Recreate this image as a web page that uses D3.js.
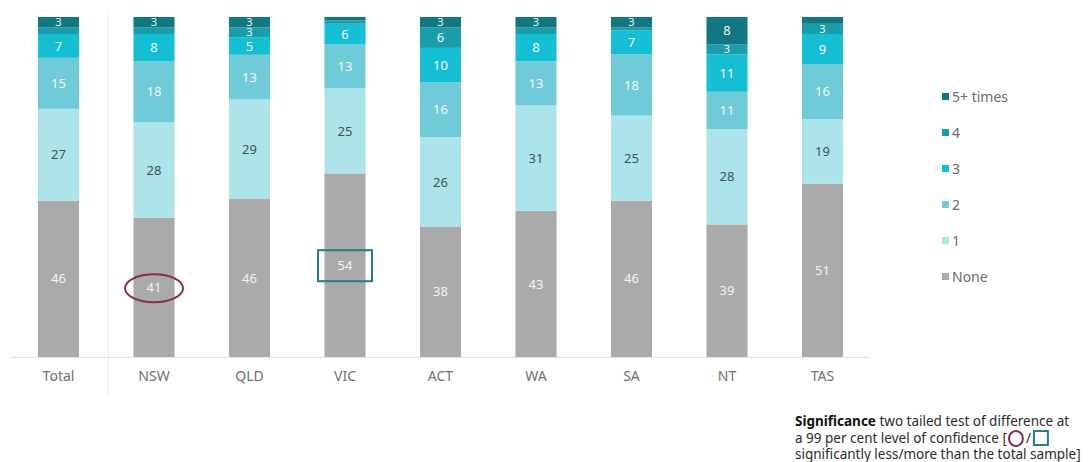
<!DOCTYPE html>
<html>
<head>
<meta charset="utf-8">
<script src="https://cdn.jsdelivr.net/npm/d3@7"></script>
<style>
  body { margin: 0; background: #fff; }
  svg { font-family: "Noto Sans", "Open Sans", sans-serif; }
</style>
</head>
<body>
<svg id="chart" width="1090" height="462"></svg>
<script>
// categories and series (per cent)
const regions = ["Total", "NSW", "QLD", "VIC", "ACT", "WA", "SA", "NT", "TAS"];
const seriesKeys = ["None", "1", "2", "3", "4", "5+ times"];
const none   = [46, 41, 46, 54, 38, 43, 46, 39, 51];
const once   = [27, 28, 29, 25, 26, 31, 25, 28, 19];
const twice  = [15, 18, 13, 13, 16, 13, 18, 11, 16];
const three  = [7, 8, 5, 6, 10, 8, 7, 11, 9];
const four   = [2, 2, 3, 1, 6, 2, 1, 3, 3];
const fivePlus = [3, 3, 3, 1, 3, 3, 3, 8, 2];
// significance markers
const sigLess = ["NSW"];
const sigMore = ["VIC"];

const colors = ["#aaaaaa", "#ade4e9", "#6fcbd8", "#14bfd3", "#1a9dab", "#117781"];
const labelColors = ["#f4f4f4", "#3a555a", "#f4f4f4", "#f4f4f4", "#f4f4f4", "#f4f4f4"];

const rows = regions.map((r, i) => ({
  region: r,
  "None": none[i], "1": once[i], "2": twice[i], "3": three[i],
  "4": four[i], "5+ times": fivePlus[i]
}));

const svg = d3.select("#chart");
const plotTop = 17, plotBottom = 357;

const x = d3.scaleBand().domain(regions).range([12, 869])
  .paddingInner(0.57).paddingOuter(0.272);
const y = d3.scaleLinear().domain([0, 1]).range([plotBottom, plotTop]);
const color = d3.scaleOrdinal().domain(seriesKeys).range(colors);

const stacked = d3.stack().keys(seriesKeys).offset(d3.stackOffsetExpand)(rows);

// separator after Total
svg.append("line")
  .attr("x1", 108.5).attr("x2", 108.5).attr("y1", 10).attr("y2", 396)
  .attr("stroke", "#efefef").attr("stroke-width", 1);

const layers = svg.append("g").selectAll("g")
  .data(stacked).join("g")
  .attr("fill", d => color(d.key));

layers.selectAll("rect")
  .data(d => d)
  .join("rect")
  .attr("x", d => x(d.data.region))
  .attr("width", x.bandwidth())
  .attr("y", d => y(d[1]))
  .attr("height", d => y(d[0]) - y(d[1]));

// segment labels (thin segments get a smaller font so stacked 3s stay legible)
stacked.forEach((layer, li) => {
  svg.append("g").selectAll("text")
    .data(layer.filter(d => d.data[layer.key] >= 3))
    .join("text")
    .attr("x", d => x(d.data.region) + x.bandwidth() / 2)
    .attr("y", d => (y(d[0]) + y(d[1])) / 2)
    .attr("dy", "0.36em")
    .attr("text-anchor", "middle")
    .attr("font-size", d => d.data[layer.key] <= 3 ? 11 : 13)
    .attr("fill", labelColors[li])
    .text(d => d.data[layer.key]);
});

// x axis
const xAxis = svg.append("g")
  .attr("transform", `translate(0,${plotBottom})`)
  .call(d3.axisBottom(x).tickSize(0).tickPadding(14));
xAxis.select(".domain").attr("d", "M10,0.5H870").attr("stroke", "#e3e3e3");
xAxis.selectAll("text")
  .attr("font-size", 14).attr("fill", "#707070")
  .attr("font-family", "'Noto Sans', sans-serif");

// significance marks
const noneLayer = stacked[0];
noneLayer.filter(d => sigLess.includes(d.data.region)).forEach(d => {
  svg.append("ellipse")
    .attr("cx", x(d.data.region) + x.bandwidth() / 2)
    .attr("cy", (y(d[0]) + y(d[1])) / 2 + 1)
    .attr("rx", 29).attr("ry", 14)
    .attr("fill", "none").attr("stroke", "#8a2b4d").attr("stroke-width", 2);
});
noneLayer.filter(d => sigMore.includes(d.data.region)).forEach(d => {
  const cx = x(d.data.region) + x.bandwidth() / 2;
  const cy = (y(d[0]) + y(d[1])) / 2;
  svg.append("rect")
    .attr("x", cx - 27).attr("y", cy - 15)
    .attr("width", 54).attr("height", 31)
    .attr("fill", "none").attr("stroke", "#1f8080").attr("stroke-width", 2);
});

// legend
const legendKeys = seriesKeys.slice().reverse();
const legend = svg.append("g").attr("transform", "translate(942,97)");
const item = legend.selectAll("g").data(legendKeys).join("g")
  .attr("transform", (d, i) => `translate(0,${i * 36})`);
item.append("rect")
  .attr("x", 0).attr("y", -4).attr("width", 7).attr("height", 7)
  .attr("fill", d => color(d));
item.append("text")
  .attr("x", 10).attr("dy", "0.35em")
  .attr("font-size", 14).attr("fill", "#6b6b6b")
  .text(d => d);

// significance note
const note = svg.append("g").attr("font-size", 13.5).attr("fill", "#2b2b2b");
const l1 = note.append("text").attr("x", 795).attr("y", 426);
l1.append("tspan").attr("font-weight", "bold").attr("fill", "#111").text("Significance");
l1.append("tspan").text(" two tailed test of difference at");
const l2a = note.append("text").attr("x", 795).attr("y", 443)
  .text("a 99 per cent level of confidence [");
const w2 = l2a.node().getComputedTextLength();
note.append("ellipse")
  .attr("cx", 795 + w2 + 9).attr("cy", 438.5).attr("rx", 7).attr("ry", 7.5)
  .attr("fill", "none").attr("stroke", "#8a2b4d").attr("stroke-width", 2);
note.append("text").attr("x", 795 + w2 + 19).attr("y", 443).text("/");
note.append("rect")
  .attr("x", 795 + w2 + 27).attr("y", 431).attr("width", 14).attr("height", 14)
  .attr("fill", "none").attr("stroke", "#1f8080").attr("stroke-width", 2);
note.append("text").attr("x", 795).attr("y", 459)
  .text("significantly less/more than the total sample]");
</script>
</body>
</html>
